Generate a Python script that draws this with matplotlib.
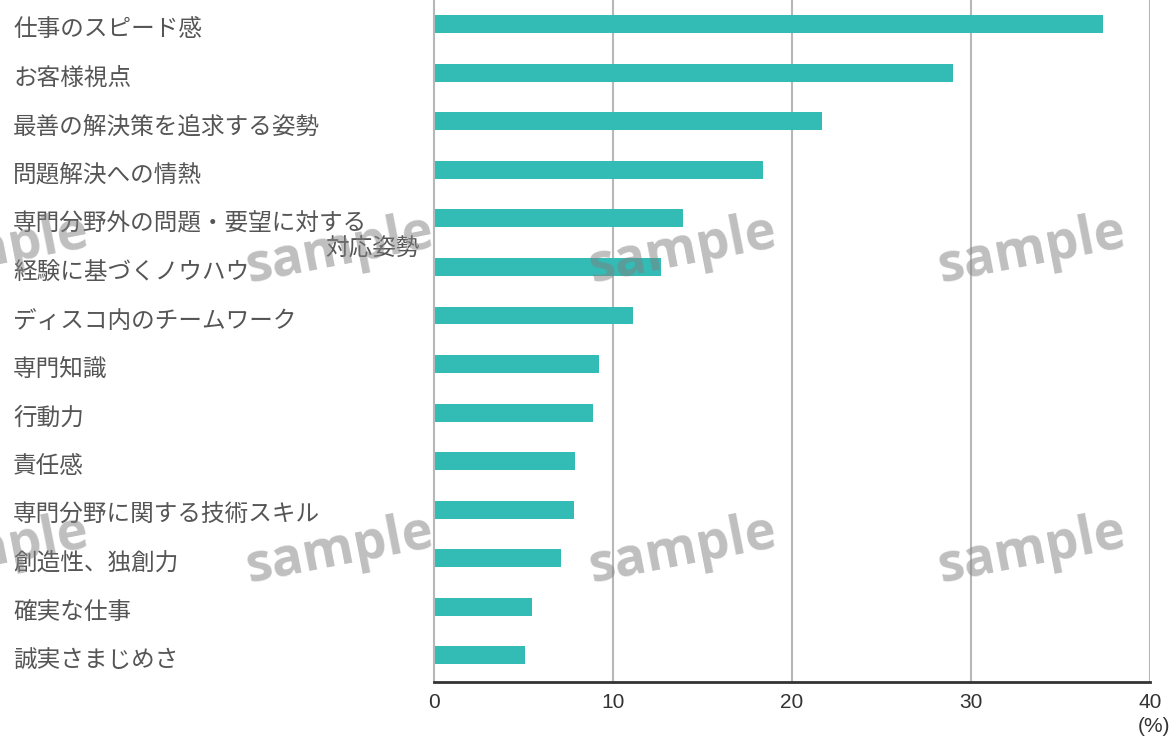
import matplotlib
matplotlib.use("Agg")
import matplotlib.pyplot as plt
import matplotlib.transforms as mtransforms

plt.rcParams['font.family'] = ['Noto Sans CJK JP', 'DejaVu Sans']

categories = [
    "仕事のスピード感",
    "お客様視点",
    "最善の解決策を追求する姿勢",
    "問題解決への情熱",
    "専門分野外の問題・要望に対する",
    "経験に基づくノウハウ",
    "ディスコ内のチームワーク",
    "専門知識",
    "行動力",
    "責任感",
    "専門分野に関する技術スキル",
    "創造性、独創力",
    "確実な仕事",
    "誠実さまじめさ",
]
values = [37.4, 29.0, 21.7, 18.4, 13.9, 12.7, 11.1, 9.2, 8.9, 7.9, 7.8, 7.1, 5.5, 5.1]
xticks = [0, 10, 20, 30, 40]
extra_line = "対応姿勢"   # second line of the 5th category
extra_index = 4
unit_label = "(%)"

num_font = ['Liberation Sans Narrow', 'Liberation Sans', 'DejaVu Sans']

W, H = 1175, 740
fig = plt.figure(figsize=(W / 100, H / 100), dpi=100)
ax = fig.add_axes([434 / W, 1 - 682 / H, (1150 - 434) / W, 682 / H])

ypos = list(range(len(categories)))
ax.barh(ypos, values, height=0.37, color='#33bbb5', zorder=2)

ax.set_xlim(0, 40)
ax.set_ylim(13.55, -0.5)
ax.set_xticks(xticks)
ax.set_xticklabels([str(t) for t in xticks], fontsize=15, color='#333333', family=num_font)
ax.tick_params(axis='x', length=0, pad=8)

ax.set_yticks(ypos)
ax.set_yticklabels(categories, fontsize=17, color='#555555')
ax.tick_params(axis='y', length=0, pad=(434 - 13) * 0.72)
offset = mtransforms.ScaledTranslation(0, -3 / 100, fig.dpi_scale_trans)
for lbl in ax.get_yticklabels():
    lbl.set_ha('left')
    lbl.set_va('center_baseline')
    lbl.set_transform(lbl.get_transform() + offset)

for t in xticks[1:]:
    ax.axvline(t, color='#b4b8bb', lw=1.5, zorder=1)

for s in ['top', 'right']:
    ax.spines[s].set_visible(False)
ax.spines['left'].set_color('#b4b8bb')
ax.spines['left'].set_linewidth(1.5)
ax.spines['bottom'].set_color('#333333')
ax.spines['bottom'].set_linewidth(2)

# second line of the two-line label
trans = mtransforms.blended_transform_factory(ax.transAxes, ax.transData)
ax.text((420 - 434) / 716, extra_index + 0.58, extra_line, transform=trans,
        ha='right', va='center_baseline', fontsize=17, color='#555555', zorder=6,
        bbox=dict(facecolor='white', edgecolor='none', pad=0))

fig.text(1170 / W, 1 - 727 / H, unit_label, ha='right', va='center', fontsize=15,
         color='#333333', family=num_font)

# watermarks
for cy in [250, 550]:
    for cx in [-5, 340, 683, 1032]:
        fig.text(cx / W, 1 - cy / H, "sample", ha='center', va='center', rotation=11,
                 fontsize=38, fontweight='bold', family=['Open Sans', 'DejaVu Sans'],
                 color='#808080', alpha=0.5, zorder=5)

fig.savefig("out.png", dpi=100)
